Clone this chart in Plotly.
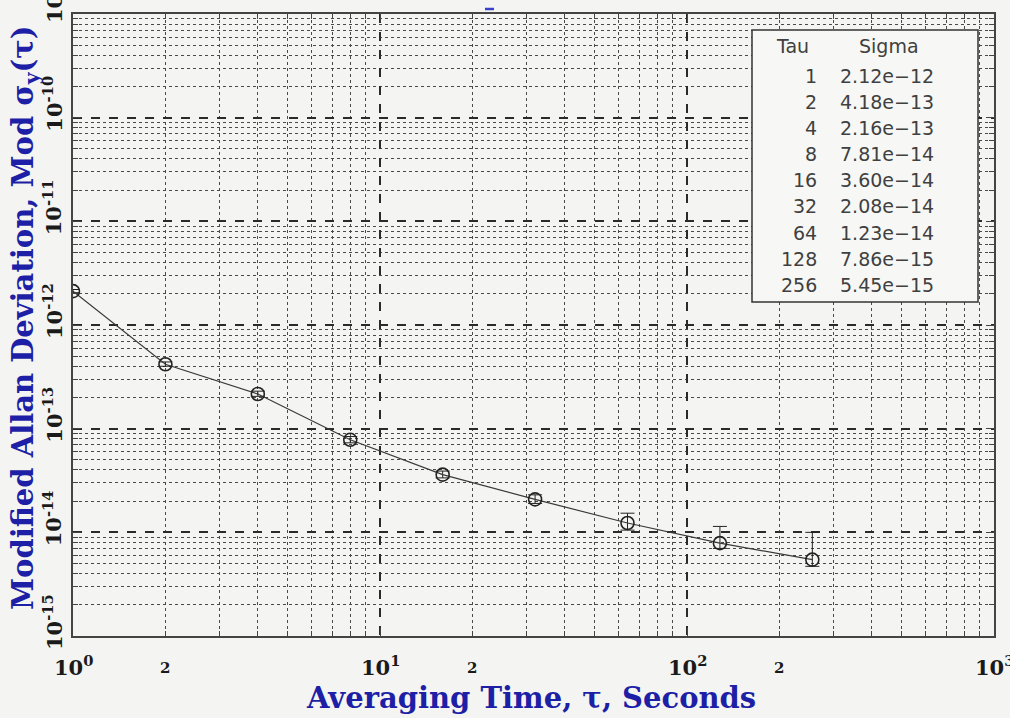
import numpy as np
import plotly.graph_objects as go

# ---- data ----
tau = [1, 2, 4, 8, 16, 32, 64, 128, 256]
sigma = [2.12e-12, 4.18e-13, 2.16e-13, 7.81e-14, 3.60e-14, 2.08e-14, 1.23e-14, 7.86e-15, 5.45e-15]
sigma_hi = [2.20e-12, 4.40e-13, 2.30e-13, 8.40e-14, 3.90e-14, 2.30e-14, 1.53e-14, 1.14e-14, 1.00e-14]
sigma_lo = [2.05e-12, 4.00e-13, 2.05e-13, 7.30e-14, 3.35e-14, 1.90e-14, 1.05e-14, 7.00e-15, 4.70e-15]

x_major = [1, 10, 100, 1000]
x_minor = [m * d for d in [1, 10, 100] for m in range(2, 10)]
y_major = [10.0 ** e for e in range(-15, -8)]
y_minor = [m * 10.0 ** e for e in range(-15, -9) for m in range(2, 10)]
x_label_exp = [0, 1, 2, 3]
x_label_two = [2, 20, 200]
y_label_exp = [-15, -14, -13, -12, -11, -10, -9]

# ---- layout geometry (pixels) ----
W, H = 1010, 718
L, R, T, B = 73, 16, 14, 82
PW, PH = W - L - R, H - T - B


def px(x):
    return (x - L) / PW


def py(y):
    return (H - B - y) / PH


BG = "#f4f5f2"
BLUE = "#1d1fa6"
GRID = "#4a4a4a"

fig = go.Figure()
fig.add_trace(go.Scatter(
    x=tau, y=sigma, mode="lines+markers",
    line=dict(color="#3a3a3a", width=1.2),
    marker=dict(symbol="circle-open", size=13, color="#222222", line=dict(width=1.6)),
    error_y=dict(type="data", symmetric=False,
                 array=[h - s for h, s in zip(sigma_hi, sigma)],
                 arrayminus=[s - l for s, l in zip(sigma, sigma_lo)],
                 color="#222222", thickness=1, width=7),
    showlegend=False,
))

axis_common = dict(
    type="log", showline=True, linecolor="#444444", linewidth=2, mirror="ticks",
    ticks="inside", ticklen=8, tickcolor="#444444", tickwidth=1.2,
    showticklabels=False, showgrid=True, gridcolor="#2a2a2a", gridwidth=1.5,
    griddash="dash", zeroline=False,
)

fig.update_xaxes(
    **axis_common, range=[0, 3], tickmode="array", tickvals=x_major,
    minor=dict(tickmode="array", tickvals=x_minor, showgrid=True, gridcolor=GRID,
               griddash="dot", gridwidth=1, ticks="inside", ticklen=5,
               tickcolor="#444444"),
)
fig.update_yaxes(
    **axis_common, range=[-15, -9], tickmode="array", tickvals=y_major,
    minor=dict(tickmode="array", tickvals=y_minor, showgrid=True, gridcolor=GRID,
               griddash="dot", gridwidth=1, ticks="inside", ticklen=5,
               tickcolor="#444444"),
)

ann = []
serif = "DejaVu Serif"
# x tick labels
for e in x_label_exp:
    ann.append(dict(x=e, y=0, xref="x", yref="paper", yanchor="middle", yshift=-30,
                    text=f"<b>10<sup>{e}</sup></b>", showarrow=False,
                    font=dict(family=serif, size=21, color="#1a1a1a")))
for v in x_label_two:
    ann.append(dict(x=np.log10(v), y=0, xref="x", yref="paper", yanchor="middle", yshift=-32,
                    text="<b>2</b>", showarrow=False,
                    font=dict(family=serif, size=15, color="#1a1a1a")))
# y tick labels (rotated)
for e in y_label_exp:
    ann.append(dict(x=0, y=e, xref="paper", yref="y", xanchor="center", yanchor="middle",
                    xshift=-20, yshift=14, textangle=-90,
                    text=f"<b>10<sup>{e}</sup></b>", showarrow=False,
                    font=dict(family=serif, size=21, color="#1a1a1a")))
# axis titles
ann.append(dict(x=px(531), y=py(698), xref="paper", yref="paper",
                text="<b>Averaging Time, τ, Seconds</b>", showarrow=False,
                xanchor="center", yanchor="middle",
                font=dict(family=serif, size=29, color=BLUE)))
ann.append(dict(x=px(25), y=py(318), xref="paper", yref="paper", textangle=-90,
                text="<b>Modified Allan Deviation, Mod σ<sub>y</sub>(τ)</b>", showarrow=False,
                xanchor="center", yanchor="middle",
                font=dict(family=serif, size=29, color=BLUE)))

# table
sans = "DejaVu Sans"
TXT = "#404040"
ann.append(dict(x=px(792), y=py(46), xref="paper", yref="paper", text="Tau",
                showarrow=False, xanchor="center", yanchor="middle",
                font=dict(family=sans, size=19, color=TXT)))
ann.append(dict(x=px(889), y=py(46), xref="paper", yref="paper", text="Sigma",
                showarrow=False, xanchor="center", yanchor="middle",
                font=dict(family=sans, size=19, color=TXT)))
for i, (t, s) in enumerate(zip(tau, sigma)):
    yy = 76 + 26.1 * i
    ann.append(dict(x=px(819), y=py(yy), xref="paper", yref="paper", text=str(t),
                    showarrow=False, xanchor="right", yanchor="middle",
                    font=dict(family=sans, size=19, color=TXT)))
    ann.append(dict(x=px(838), y=py(yy), xref="paper", yref="paper",
                    text=f"{s:.2e}".replace("-", "\u2212"),
                    showarrow=False, xanchor="left", yanchor="middle",
                    font=dict(family=sans, size=19, color=TXT)))

shapes = [
    dict(type="rect", xref="paper", yref="paper", x0=px(752), x1=px(978),
         y0=py(302), y1=py(30), fillcolor="#f7f8f5",
         line=dict(color="#333333", width=1.5), layer="above"),
    dict(type="line", xref="paper", yref="paper", x0=px(485), x1=px(494),
         y0=py(9), y1=py(9), line=dict(color="#3a3fcf", width=2.5), layer="above"),
]

fig.update_layout(
    width=W, height=H, margin=dict(l=L, r=R, t=T, b=B),
    paper_bgcolor=BG, plot_bgcolor=BG,
    annotations=ann, shapes=shapes, showlegend=False,
)

fig.write_html("out.html")
